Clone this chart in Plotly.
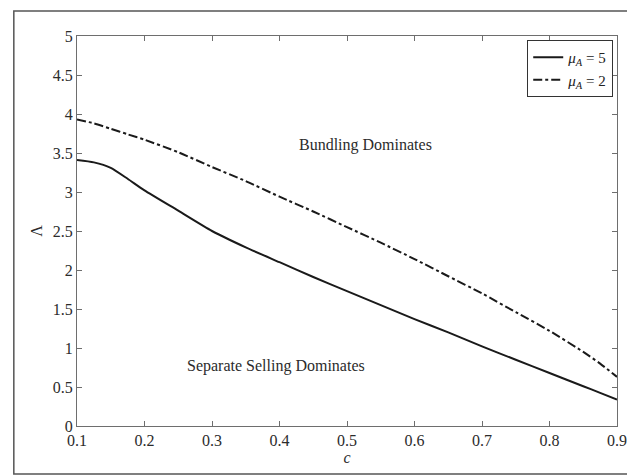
import plotly.graph_objects as go

c_vals = [0.10, 0.125, 0.15, 0.175, 0.20, 0.25, 0.30, 0.35, 0.40, 0.45, 0.50, 0.55, 0.60,
          0.65, 0.70, 0.75, 0.80, 0.85, 0.875, 0.90]
lam_mu5 = [3.41, 3.38, 3.31, 3.17, 3.02, 2.76, 2.50, 2.29, 2.10, 1.91, 1.73, 1.55, 1.37,
           1.20, 1.02, 0.85, 0.68, 0.51, 0.425, 0.34]
lam_mu2 = [3.93, 3.88, 3.81, 3.74, 3.67, 3.51, 3.32, 3.14, 2.94, 2.75, 2.55, 2.35, 2.14,
           1.92, 1.70, 1.46, 1.22, 0.95, 0.80, 0.63]
series_names = ["<i>μ</i><sub><i>A</i></sub> = 5", "<i>μ</i><sub><i>A</i></sub> = 2"]
x_ticks = [0.1, 0.2, 0.3, 0.4, 0.5, 0.6, 0.7, 0.8, 0.9]
y_ticks = [0, 0.5, 1, 1.5, 2, 2.5, 3, 3.5, 4, 4.5, 5]
region_labels = ["Bundling Dominates", "Separate Selling Dominates"]

FONT = "Liberation Serif"
TXT = "#2b2b2b"

fig = go.Figure()
fig.add_trace(go.Scatter(x=c_vals, y=lam_mu5, mode="lines", name=series_names[0],
                         line=dict(color="#1a1a1a", width=2, dash="solid",
                                   shape="spline", smoothing=0.6)))
fig.add_trace(go.Scatter(x=c_vals, y=lam_mu2, mode="lines", name=series_names[1],
                         line=dict(color="#1a1a1a", width=2, dash="dashdot",
                                   shape="spline", smoothing=0.6)))

axis_common = dict(showgrid=False, zeroline=False, showline=True, linecolor="#6e6e6e",
                   linewidth=1.2, mirror="ticks", ticks="inside", ticklen=5,
                   tickcolor="#6e6e6e", tickfont=dict(family=FONT, size=16, color=TXT))

fig.update_xaxes(range=[0.1, 0.9], tickvals=x_ticks, ticktext=[f"{v:g}" for v in x_ticks],
                 title=dict(text="<i>c</i>", font=dict(family=FONT, size=16, color=TXT),
                            standoff=2),
                 **axis_common)
fig.update_yaxes(range=[0, 5], tickvals=y_ticks, ticktext=[f"{v:g}" for v in y_ticks],
                 title=dict(text="Λ", font=dict(family=FONT, size=16, color=TXT),
                            standoff=6),
                 **axis_common)

fig.add_annotation(x=0.528, y=3.6, text=region_labels[0], showarrow=False,
                   font=dict(family=FONT, size=16, color=TXT))
fig.add_annotation(x=0.395, y=0.77, text=region_labels[1], showarrow=False,
                   font=dict(family=FONT, size=16, color=TXT))

# outer frame around the figure
fig.add_shape(type="rect", xref="paper", yref="paper",
              x0=-0.117, x1=1.042, y0=-0.123, y1=1.064,
              line=dict(color="#555555", width=1.5), fillcolor="rgba(0,0,0,0)")

fig.update_layout(
    width=635, height=475,
    margin=dict(l=69, r=26, t=28, b=57),
    paper_bgcolor="white", plot_bgcolor="white",
    showlegend=True,
    legend=dict(x=0.993, y=0.99, xanchor="right", yanchor="top",
                bgcolor="white", bordercolor="#333333", borderwidth=1,
                font=dict(family=FONT, size=15, color="#222222"),
                itemwidth=30, tracegroupgap=0),
)

fig.write_html("out.html")
